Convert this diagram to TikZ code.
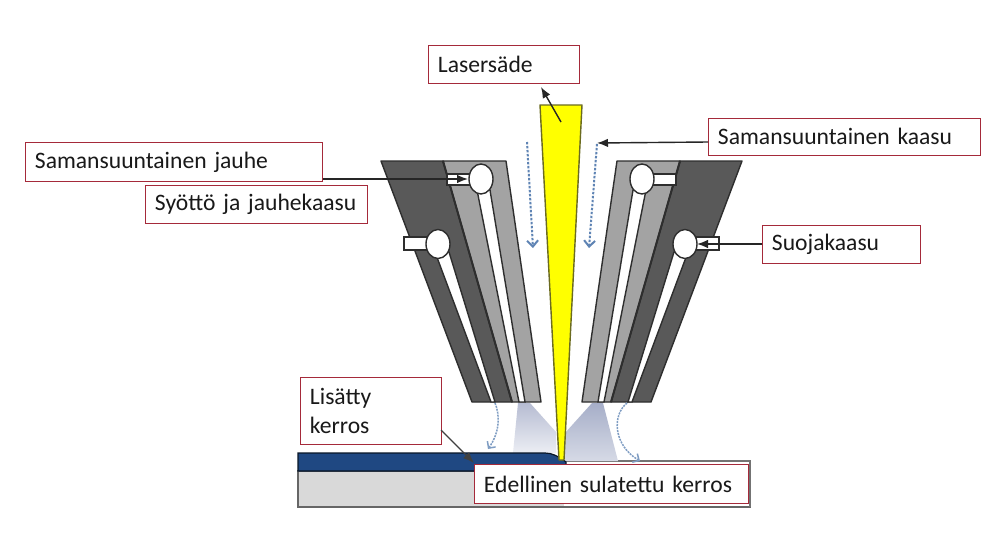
\documentclass[tikz,border=0pt]{standalone}
\usepackage{fontspec}
\setmainfont{Carlito}
\usetikzlibrary{arrows.meta}
\definecolor{boxred}{HTML}{A52A3A}
\definecolor{darkfill}{HTML}{595959}
\definecolor{grayfill}{HTML}{A3A3A3}
\definecolor{edge}{HTML}{2E2E2E}
\definecolor{flow}{HTML}{5F84B4}
\definecolor{layerblue}{HTML}{1F4882}
\definecolor{sub}{HTML}{D9D9D9}
\definecolor{beam}{HTML}{FFFF00}
\definecolor{beamedge}{HTML}{6B6B20}
\definecolor{conetopa}{HTML}{B6BCD2}
\definecolor{conebota}{HTML}{ECEEF4}
\definecolor{conetopb}{HTML}{A6AEC8}
\definecolor{conebotb}{HTML}{D6DAE6}
\tikzset{
  lab/.style={draw=boxred,line width=0.9pt,fill=white,anchor=north west,align=left,inner xsep=9.5pt,inner ysep=0pt,font=\fontsize{23.6}{29}\selectfont,text=black!90},
  part/.style={draw=edge,line width=1.4pt,line join=round},
  hole/.style={draw=edge,line width=1.4pt,fill=white},
  pointer/.style={draw=black!85,line width=1.4pt,-{Latex[length=11pt,width=8.5pt]}},
  flowdash/.style={draw=flow,line width=2pt,dash pattern=on 2.4pt off 1.6pt,-{Straight Barb[length=6pt,width=11pt]}},
  flowcurve/.style={draw=flow!80,line width=1.5pt,dash pattern=on 2pt off 1pt,-{Straight Barb[length=5pt,width=10pt]}}
}
\newcommand{\nozzlepart}{%
  \draw[part,fill=darkfill] (381,161) -- (443,161) -- (512,402) -- (472,402) -- cycle;
  \draw[part,fill=grayfill] (443,161) -- (506,161) -- (541,402) -- (512,402) -- cycle;
  \draw[edge,line width=2pt] (443,161) -- (512,402);
  \draw[hole] (477,190) -- (519,402) -- (525,402) -- (490,190) -- cycle;
  \draw[hole] (435,252) -- (491,402) -- (495,402) -- (449,252) -- cycle;
  \draw[hole] (447,174) rectangle (471,185);
  \draw[hole] (404,237) rectangle (428,250);
  \draw[hole] (481,179) ellipse [x radius=12, y radius=15];
  \draw[hole] (438,244) ellipse [x radius=12, y radius=14.5];
}
\begin{document}
\begin{tikzpicture}[x=1pt,y=-1pt]
\useasboundingbox (0,0) rectangle (997,536);
\fill[white] (0,0) rectangle (997,536);
% workpiece
\draw[draw=black!60,line width=1.8pt,fill=sub] (298,471) rectangle (750,507);
\fill[white] (564,462) rectangle (749,506);
\draw[draw=black!55,line width=1.8pt] (564,461) -- (750,461) -- (750,507);
% gas cones
\shade[top color=conetopa,bottom color=conebota] (518,403) -- (530,403) -- (556,432) -- (556,453) -- (513,453) -- cycle;
\shade[top color=conetopb,bottom color=conebotb] (592,403) -- (603,403) -- (618,461) -- (565,461) -- (565,433) -- cycle;
% added layer
\draw[draw=black!70!layerblue,line width=1.2pt,fill=layerblue] (298,453) -- (545,453) .. controls (552,453) and (558,456) .. (566,462) -- (566,471) -- (298,471) -- cycle;
% nozzle halves
\nozzlepart
\begin{scope}[shift={(1123,0)},xscale=-1]
\nozzlepart
\end{scope}
% beam
\draw[draw=beamedge,line width=1.4pt,fill=beam,line join=round] (540,105) -- (582,105) -- (564,460) -- (559,460) -- cycle;
% flows
\coordinate (fa) at (527,142); \coordinate (fb) at (533,248);
\coordinate (ga) at (597,144); \coordinate (gb) at (589,248);
\draw[flowdash] (fa) -- (fb);
\draw[flowdash] (ga) -- (gb);
\coordinate (ca) at (495,403); \coordinate (cb) at (488,449);
\coordinate (da) at (627,403); \coordinate (db) at (640,461);
\draw[flowcurve] (ca) .. controls (500,415) and (500,432) .. (cb);
\draw[flowcurve] (da) .. controls (612,415) and (613,445) .. (db);
% labels
\node[lab,text width=132pt,minimum height=38pt] (laser) at (428,44.5) {Lasersäde};
\node[lab,text width=253pt,minimum height=37pt] (kaasu) at (708,117.5) {Samansuuntainen kaasu};
\node[lab,text width=278pt,minimum height=39pt] (jauhe) at (25,142) {Samansuuntainen jauhe};
\node[lab,text width=203pt,minimum height=38pt] (syotto) at (145,185) {Syöttö ja jauhekaasu};
\node[lab,text width=139pt,minimum height=38pt] (suoja) at (762,225) {Suojakaasu};
\node[lab,text width=122pt,minimum height=67pt] (lisatty) at (300,377) {Lisätty\\kerros};
\node[lab,text width=255pt,minimum height=39pt] (edel) at (474,464) {Edellinen sulatettu kerros};
% pointers
\coordinate (lp) at (561,122); \coordinate (lt) at (541,87);
\draw[pointer] (lp) -- (lt);
\coordinate (kt) at (597,143); \coordinate (ks) at (708,142);
\draw[pointer] (ks) -- (kt);
\coordinate (jt) at (468,179);
\draw[pointer] (jauhe.east |- jt) -- (jt);
\coordinate (st) at (697,244);
\draw[pointer] (suoja.west |- st) -- (st);
\coordinate (ls) at (441,430); \coordinate (lh) at (474,463);
\draw[pointer,draw=black!75] (ls) -- (lh);
\end{tikzpicture}
\end{document}
